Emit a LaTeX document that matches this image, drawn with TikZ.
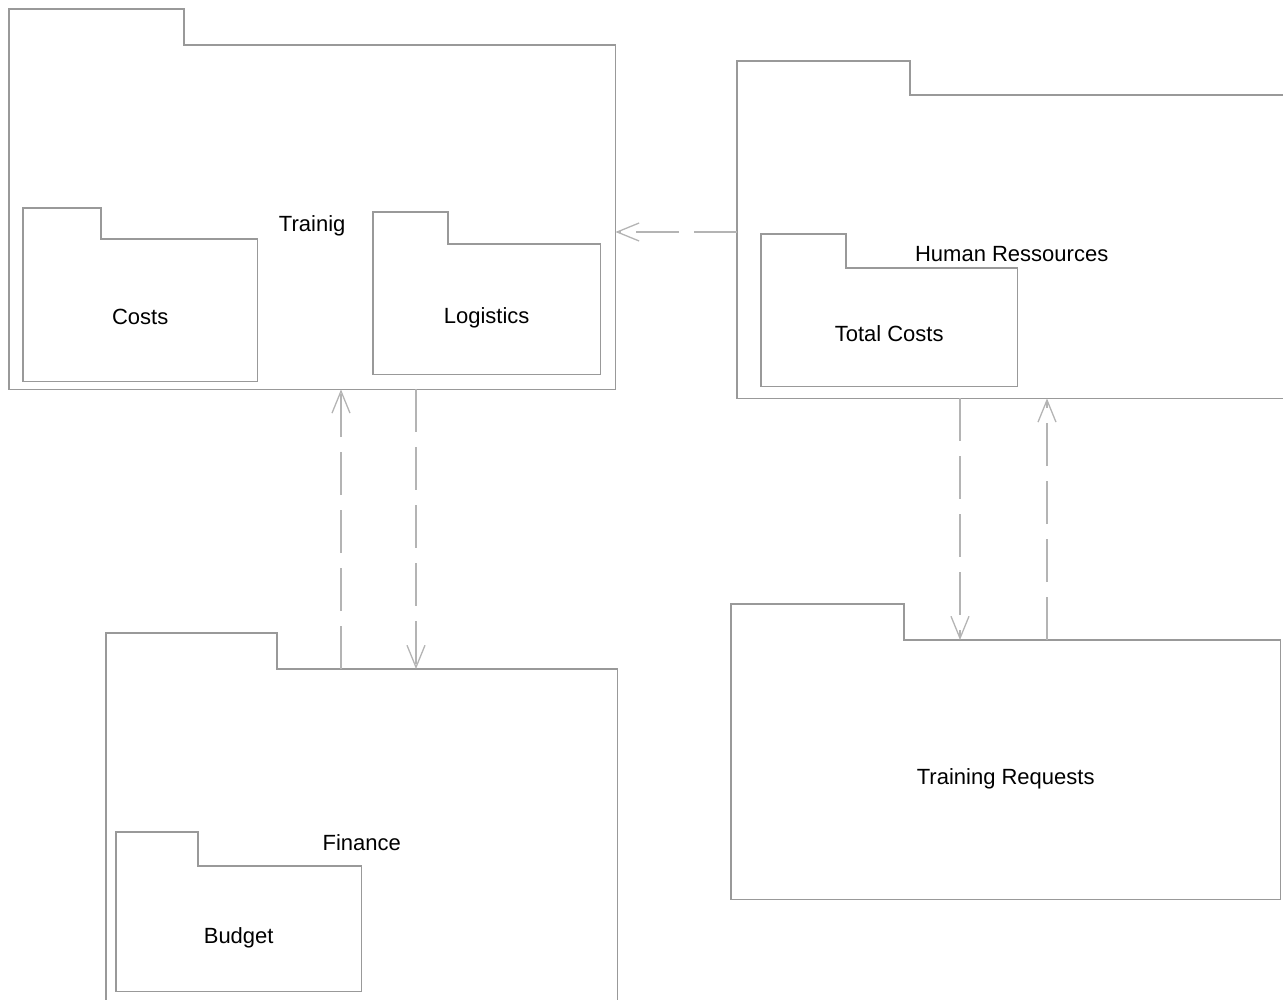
\documentclass[tikz,border=0pt]{standalone}
\usepackage{fontspec}
\setmainfont{Liberation Sans}
\usetikzlibrary{arrows.meta}

\definecolor{pkggray}{HTML}{999999}
\definecolor{depgray}{HTML}{B4B4B4}

% outline of a package: body node, tab width, tab height
\newcommand{\pkgoutline}[3]{\draw[pkgline] (#1.south west) -- (#1.north west) -- ++(0,-#3) -- ++(#2,0)
    -- ++(0,#3) -- (#1.north east) -- (#1.south east) -- cycle;}

\begin{document}
\begin{tikzpicture}[x=1pt, y=-1pt,
		    font=\fontsize{22}{26}\selectfont,
		    pkgline/.style={draw=pkggray, line width=1.6pt, line join=miter},
		    pkg/.style={rectangle, anchor=north west, inner sep=0pt,
		                text height=31pt, text depth=2pt},
		    dep/.style={draw=depgray, line width=1.3pt, dash pattern=on 43pt off 15pt,
		                -{Straight Barb[length=22pt, width=18pt, line width=1.3pt]}}]

\useasboundingbox (0,0) rectangle (1283,1000);

% Training and its parts
\node[pkg, minimum width=606pt, minimum height=344pt] (train) at (9,45) {Trainig};
\pkgoutline{train}{175}{36}
\node[pkg, minimum width=234pt, minimum height=142pt] (costs) at (23,239) {Costs};
\pkgoutline{costs}{78}{31}
\node[pkg, minimum width=227pt, minimum height=130pt] (logi) at (373,244) {Logistics};
\pkgoutline{logi}{75}{32}

% Human Ressources
\node[pkg, minimum width=549pt, minimum height=303pt] (hr) at (737,95) {Human Ressources};
\pkgoutline{hr}{173}{34}
\node[pkg, minimum width=256pt, minimum height=118pt] (total) at (761,268) {Total Costs};
\pkgoutline{total}{85}{34}

% Finance
\node[pkg, minimum width=511pt, minimum height=334pt] (fin) at (106,669) {Finance};
\pkgoutline{fin}{171}{36}
\node[pkg, minimum width=245pt, minimum height=125pt] (budget) at (116,866) {Budget};
\pkgoutline{budget}{82}{34}

% Training Requests
\node[pkg, minimum width=549pt, minimum height=259pt] (req) at (731,640) {Training Requests};
\pkgoutline{req}{173}{36}

% dependencies
\draw[dep] (hr.west |- 0,232) -- (train.east |- 0,232);
\draw[dep] (fin.north -| 341,0) -- (train.south -| 341,0);
\draw[dep] (train.south -| 416,0) -- (fin.north -| 416,0);
\draw[dep] (hr.south -| 960,0) -- (req.north -| 960,0);
\draw[dep] (req.north -| 1047,0) -- (hr.south -| 1047,0);
\end{tikzpicture}
\end{document}
